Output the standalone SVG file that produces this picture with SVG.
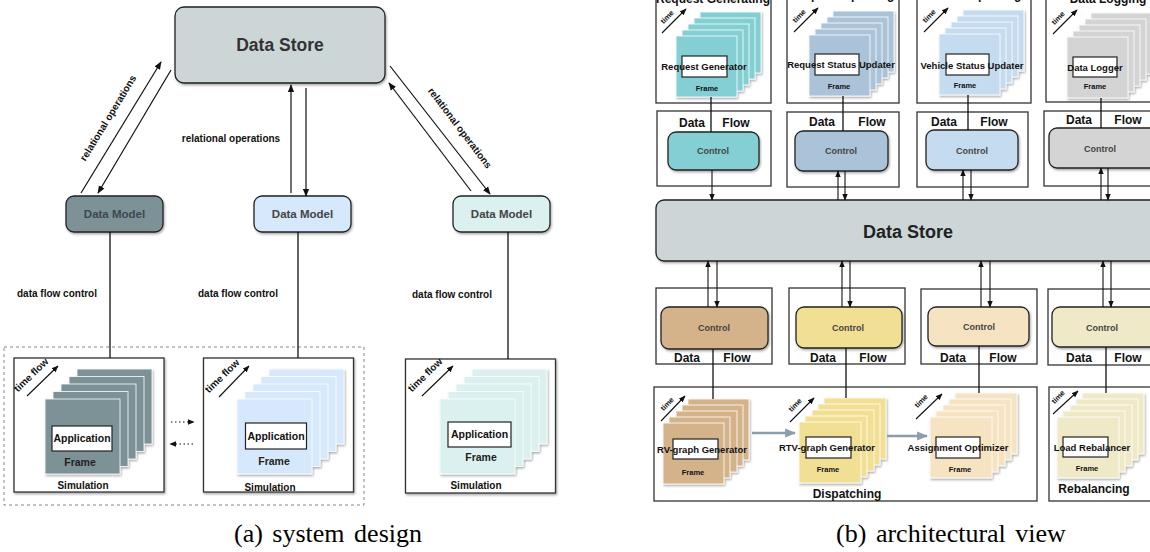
<svg xmlns="http://www.w3.org/2000/svg" width="1150" height="552" viewBox="0 0 1150 552">
<defs>
<style>
text{font-family:"Liberation Sans",Arial,sans-serif;font-weight:bold;fill:#111;text-anchor:middle}
.cap{font-family:"Liberation Serif","Times New Roman",serif;font-weight:normal;font-size:26px;fill:#000;word-spacing:3px}
.box{fill:#fff;stroke:#333;stroke-width:1.3}
.rnd{stroke:#222;stroke-width:1.3}
.lbl{fill:#fff;stroke:#222;stroke-width:1.2}
.fr{stroke:#fff;stroke-width:0.8}
.ln{fill:none;stroke:#111;stroke-width:1.3}
.ar{fill:none;stroke:#111;stroke-width:1.2;marker-end:url(#ah)}
.ars{fill:none;stroke:#111;stroke-width:1.1;marker-end:url(#ahs)}
.dot{fill:none;stroke:#111;stroke-width:1.2;stroke-dasharray:1.5 2.5;marker-end:url(#ahs)}
.gar{fill:none;stroke:#8c9dac;stroke-width:2.5;marker-end:url(#ahg)}
.ctl{font-size:9px;fill:#444}
.df{font-size:12px}
.sm{font-size:10px}
.t9{font-size:9.5px}
.fm{font-size:7.5px}
.tm{font-size:7.5px}
</style>
<marker id="ah" viewBox="0 0 10 10" refX="9" refY="5" markerWidth="8" markerHeight="8" markerUnits="userSpaceOnUse" orient="auto"><path d="M0,1 L10,5 L0,9 z" fill="#111"/></marker>
<marker id="ahs" viewBox="0 0 10 10" refX="9" refY="5" markerWidth="7" markerHeight="7" markerUnits="userSpaceOnUse" orient="auto"><path d="M0,1 L10,5 L0,9 z" fill="#111"/></marker>
<marker id="ahg" viewBox="0 0 10 10" refX="9" refY="5" markerWidth="11" markerHeight="11" markerUnits="userSpaceOnUse" orient="auto"><path d="M0,1 L10,5 L0,9 z" fill="#8c9dac"/></marker>
<filter id="sh" x="-10%" y="-10%" width="130%" height="130%"><feDropShadow dx="1" dy="1.5" stdDeviation="1" flood-color="#000" flood-opacity="0.35"/></filter>
</defs>

<!-- ============ (a) system design ============ -->
<g id="a-datastore">
<rect x="175" y="7" width="210" height="76" rx="9" fill="#ccd6d7" class="rnd" filter="url(#sh)"/>
<text x="280" y="45" dy="0.35em" style="font-size:17.5px;fill:#333">Data Store</text>
</g>
<g id="a-datamodel-1">
<rect x="66" y="196" width="97" height="36" rx="8" fill="#7b9297" class="rnd" filter="url(#sh)"/>
<text x="114.5" y="214" dy="0.35em" style="font-size:11.5px;fill:#3c494c">Data Model</text>
</g>
<g id="a-datamodel-2">
<rect x="254" y="196" width="97" height="36" rx="8" fill="#d5e8fc" class="rnd" filter="url(#sh)"/>
<text x="302.5" y="214" dy="0.35em" style="font-size:11.5px;fill:#444">Data Model</text>
</g>
<g id="a-datamodel-3">
<rect x="453" y="196" width="97" height="36" rx="8" fill="#dbf1f0" class="rnd" filter="url(#sh)"/>
<text x="501.5" y="214" dy="0.35em" style="font-size:11.5px;fill:#444">Data Model</text>
</g>

<g id="a-group">
<rect x="4" y="347" width="360" height="158" fill="none" stroke="#888" stroke-width="1" stroke-dasharray="3 3"/>
</g>

<g id="a-sim-1">
<rect x="14" y="358" width="150" height="134" class="box" filter="url(#sh)"/>
<g fill="#7b9297" class="fr" filter="url(#sh)">
<rect x="77" y="369" width="75" height="75"/><rect x="69" y="376.5" width="75" height="75"/><rect x="61" y="384" width="75" height="75"/><rect x="53" y="391.5" width="75" height="75"/><rect x="45" y="399" width="75" height="75"/>
</g>
<rect x="52" y="426" width="60" height="25" class="lbl"/>
<text x="82" y="438.5" dy="0.35em" style="font-size:10.5px">Application</text>
<text x="80" y="462" dy="0.35em" style="font-size:10.5px;fill:#222">Frame</text>
<text x="83" y="485" dy="0.35em" class="sm">Simulation</text>
<line x1="27" y1="396" x2="58" y2="366" class="ars"/>
<text x="0" y="0" class="sm" transform="translate(31,375) rotate(-44)" dy="0.35em">time flow</text>
</g>

<g id="a-sim-2">
<rect x="203.5" y="358" width="150" height="134" class="box" filter="url(#sh)"/>
<g fill="#d5e8fc" class="fr" filter="url(#sh)">
<rect x="269" y="369" width="75" height="75"/><rect x="261" y="376.5" width="75" height="75"/><rect x="253" y="384" width="75" height="75"/><rect x="245" y="391.5" width="75" height="75"/><rect x="237" y="399" width="75" height="75"/>
</g>
<rect x="245.5" y="423" width="61" height="26" class="lbl"/>
<text x="276" y="436" dy="0.35em" style="font-size:10.5px">Application</text>
<text x="274" y="461" dy="0.35em" style="font-size:10.5px;fill:#222">Frame</text>
<text x="270" y="487" dy="0.35em" class="sm">Simulation</text>
<line x1="219" y1="397" x2="249" y2="366" class="ars"/>
<text x="0" y="0" class="sm" transform="translate(222,376) rotate(-44)" dy="0.35em">time flow</text>
</g>

<g id="a-sim-3">
<rect x="405.5" y="359" width="150" height="134" class="box" filter="url(#sh)"/>
<g fill="#dbf1f0" class="fr" filter="url(#sh)">
<rect x="472" y="369" width="75" height="75"/><rect x="464" y="376.5" width="75" height="75"/><rect x="456" y="384" width="75" height="75"/><rect x="448" y="391.5" width="75" height="75"/><rect x="440" y="399" width="75" height="75"/>
</g>
<rect x="448" y="422" width="63" height="25" class="lbl"/>
<text x="479.5" y="434" dy="0.35em" style="font-size:10.5px">Application</text>
<text x="481" y="457" dy="0.35em" style="font-size:10.5px;fill:#222">Frame</text>
<text x="476" y="485" dy="0.35em" class="sm">Simulation</text>
<line x1="422" y1="396" x2="453" y2="366" class="ars"/>
<text x="0" y="0" class="sm" transform="translate(425,375) rotate(-44)" dy="0.35em">time flow</text>
</g>

<g id="a-connectors">
<line x1="81" y1="193" x2="161" y2="62" class="ar"/>
<line x1="171" y1="70" x2="98" y2="193" class="ar"/>
<line x1="291" y1="193" x2="291" y2="85" class="ar"/>
<line x1="306" y1="88" x2="306" y2="196" class="ar"/>
<line x1="471" y1="191" x2="389" y2="83" class="ar"/>
<line x1="390" y1="66" x2="490" y2="194" class="ar"/>
<line x1="110" y1="232" x2="110" y2="358" class="ln"/>
<line x1="298" y1="232" x2="298" y2="358" class="ln"/>
<line x1="508" y1="232" x2="508" y2="359" class="ln"/>
<line x1="171" y1="422" x2="194" y2="422" class="dot"/>
<line x1="193" y1="444" x2="170" y2="444" class="dot"/>
</g>
<g id="a-labels">
<text x="0" y="0" class="sm" transform="translate(108,118) rotate(-58.6)" dy="0.35em">relational operations</text>
<text x="231" y="138" dy="0.35em" class="sm">relational operations</text>
<text x="0" y="0" class="sm" transform="translate(460,128) rotate(52.8)" dy="0.35em">relational operations</text>
<text x="57" y="293" dy="0.35em" class="sm">data flow control</text>
<text x="238" y="293" dy="0.35em" class="sm">data flow control</text>
<text x="452" y="294" dy="0.35em" class="sm">data flow control</text>
</g>
<text x="328" y="542" class="cap">(a) system design</text>

<!-- ============ (b) architectural view ============ -->
<g id="b-req-gen">
<rect x="656" y="-10" width="115" height="113" class="box"/>
<text x="713" y="3" style="font-size:12px">Request Generating</text>
<g fill="#84cfd4" class="fr" filter="url(#sh)">
<rect x="700" y="12" width="61" height="61"/><rect x="694" y="18" width="61" height="61"/><rect x="688" y="24" width="61" height="61"/><rect x="682" y="30" width="61" height="61"/><rect x="676" y="36" width="61" height="61"/>
</g>
<rect x="682" y="56" width="45" height="21" class="lbl"/>
<text x="704" y="67" dy="0.35em" class="t9">Request Generator</text>
<text x="707" y="88" dy="0.35em" class="fm">Frame</text>
<line x1="662" y1="33" x2="686" y2="9" class="ars"/>
<text x="0" y="0" class="tm" transform="translate(667,17) rotate(-45)" dy="0.35em">time</text>
</g>
<g id="b-req-upd">
<rect x="787" y="-10" width="112" height="113" class="box"/>
<text x="843" y="-1" style="font-size:12px">Request Updating</text>
<g fill="#abc3d8" class="fr" filter="url(#sh)">
<rect x="833" y="11" width="61" height="61"/><rect x="827" y="17" width="61" height="61"/><rect x="821" y="23" width="61" height="61"/><rect x="815" y="29" width="61" height="61"/><rect x="809" y="35" width="61" height="61"/>
</g>
<rect x="815" y="54" width="44" height="21" class="lbl"/>
<text x="841" y="65" dy="0.35em" class="t9">Request Status Updater</text>
<text x="839" y="86" dy="0.35em" class="fm">Frame</text>
<line x1="794" y1="32" x2="818" y2="8" class="ars"/>
<text x="0" y="0" class="tm" transform="translate(799,16) rotate(-45)" dy="0.35em">time</text>
</g>
<g id="b-veh-upd">
<rect x="917" y="-10" width="114" height="113" class="box"/>
<text x="973" y="-1" style="font-size:12px">Vehicle Updating</text>
<g fill="#c5dcf0" class="fr" filter="url(#sh)">
<rect x="963" y="10" width="61" height="61"/><rect x="957" y="16" width="61" height="61"/><rect x="951" y="22" width="61" height="61"/><rect x="945" y="28" width="61" height="61"/><rect x="939" y="34" width="61" height="61"/>
</g>
<rect x="946" y="54" width="43" height="21" class="lbl"/>
<text x="972" y="66" dy="0.35em" class="t9">Vehicle Status Updater</text>
<text x="965" y="85" dy="0.35em" class="fm">Frame</text>
<line x1="924" y1="32" x2="948" y2="8" class="ars"/>
<text x="0" y="0" class="tm" transform="translate(929,16) rotate(-45)" dy="0.35em">time</text>
</g>
<g id="b-data-log">
<rect x="1046" y="-10" width="115" height="112" class="box"/>
<text x="1108" y="3" style="font-size:12px">Data Logging</text>
<g fill="#d4d4d4" class="fr" filter="url(#sh)">
<rect x="1091" y="13" width="61" height="61"/><rect x="1085" y="19" width="61" height="61"/><rect x="1079" y="25" width="61" height="61"/><rect x="1073" y="31" width="61" height="61"/><rect x="1067" y="37" width="61" height="61"/>
</g>
<rect x="1073" y="57" width="44" height="20" class="lbl"/>
<text x="1095" y="68" dy="0.35em" class="t9">Data Logger</text>
<text x="1095" y="86" dy="0.35em" class="fm">Frame</text>
<line x1="1053" y1="34" x2="1077" y2="10" class="ars"/>
<text x="0" y="0" class="tm" transform="translate(1058,18) rotate(-45)" dy="0.35em">time</text>
</g>

<g id="b-ctl-a">
<rect x="657" y="111" width="114" height="75" class="box"/>
<text x="692" y="123" dy="0.35em" class="df">Data</text>
<text x="736" y="123" dy="0.35em" class="df">Flow</text>
<rect x="668" y="132" width="91" height="38" rx="8" fill="#84cfd4" class="rnd" filter="url(#sh)"/>
<text x="713" y="151" dy="0.35em" class="ctl">Control</text>
</g>
<g id="b-ctl-b">
<rect x="787" y="112" width="112" height="75" class="box"/>
<text x="822" y="122" dy="0.35em" class="df">Data</text>
<text x="872" y="122" dy="0.35em" class="df">Flow</text>
<rect x="795" y="131" width="93" height="40" rx="8" fill="#abc3d8" class="rnd" filter="url(#sh)"/>
<text x="841" y="151" dy="0.35em" class="ctl">Control</text>
</g>
<g id="b-ctl-c">
<rect x="917" y="112" width="111" height="75" class="box"/>
<text x="944" y="122" dy="0.35em" class="df">Data</text>
<text x="994" y="122" dy="0.35em" class="df">Flow</text>
<rect x="926" y="130" width="92" height="40" rx="8" fill="#c5dcf0" class="rnd" filter="url(#sh)"/>
<text x="972" y="151" dy="0.35em" class="ctl">Control</text>
</g>
<g id="b-ctl-d">
<rect x="1044" y="111" width="116" height="75" class="box"/>
<text x="1079" y="120" dy="0.35em" class="df">Data</text>
<text x="1128" y="120" dy="0.35em" class="df">Flow</text>
<rect x="1049" y="128" width="110" height="40" rx="8" fill="#d4d4d4" class="rnd" filter="url(#sh)"/>
<text x="1100" y="149" dy="0.35em" class="ctl">Control</text>
</g>

<g id="b-datastore">
<rect x="656" y="200" width="510" height="61" rx="8" fill="#ccd6d7" class="rnd" filter="url(#sh)"/>
<text x="908" y="232" dy="0.35em" style="font-size:18px;fill:#222">Data Store</text>
</g>

<g id="b-ctl-e">
<rect x="656" y="288" width="116" height="76" class="box"/>
<rect x="661" y="307" width="107" height="42" rx="8" fill="#d5b38a" class="rnd" filter="url(#sh)"/>
<text x="714" y="328" dy="0.35em" class="ctl">Control</text>
<text x="687" y="358" dy="0.35em" class="df">Data</text>
<text x="737" y="358" dy="0.35em" class="df">Flow</text>
</g>
<g id="b-ctl-f">
<rect x="789" y="288" width="116" height="76" class="box"/>
<rect x="796" y="307" width="106" height="41" rx="8" fill="#f1df94" class="rnd" filter="url(#sh)"/>
<text x="848" y="328" dy="0.35em" class="ctl">Control</text>
<text x="823" y="358" dy="0.35em" class="df">Data</text>
<text x="873" y="358" dy="0.35em" class="df">Flow</text>
</g>
<g id="b-ctl-g">
<rect x="921" y="289" width="116" height="75" class="box"/>
<rect x="928" y="307" width="101" height="39" rx="8" fill="#f6e3c1" class="rnd" filter="url(#sh)"/>
<text x="979" y="327" dy="0.35em" class="ctl">Control</text>
<text x="953" y="358" dy="0.35em" class="df">Data</text>
<text x="1003" y="358" dy="0.35em" class="df">Flow</text>
</g>
<g id="b-ctl-h">
<rect x="1048" y="289" width="116" height="76" class="box"/>
<rect x="1052" y="307" width="110" height="40" rx="8" fill="#efe9c8" class="rnd" filter="url(#sh)"/>
<text x="1102" y="328" dy="0.35em" class="ctl">Control</text>
<text x="1079" y="358" dy="0.35em" class="df">Data</text>
<text x="1128" y="358" dy="0.35em" class="df">Flow</text>
</g>

<g id="b-dispatching">
<rect x="654" y="387" width="383" height="114" class="box"/>
<text x="847" y="494" dy="0.35em" style="font-size:12px">Dispatching</text>
<g fill="#d5b38a" class="fr" filter="url(#sh)">
<rect x="688" y="399" width="61" height="61"/><rect x="682" y="405" width="61" height="61"/><rect x="676" y="411" width="61" height="61"/><rect x="669" y="417" width="61" height="61"/><rect x="663" y="423" width="61" height="61"/>
</g>
<rect x="673" y="439" width="45" height="20" class="lbl"/>
<text x="702" y="450" dy="0.35em" class="t9">RV-graph Generator</text>
<text x="693" y="472" dy="0.35em" class="fm">Frame</text>
<line x1="661" y1="421" x2="685" y2="396" class="ars"/>
<text x="0" y="0" class="tm" transform="translate(667,404) rotate(-45)" dy="0.35em">time</text>

<g fill="#f1df94" class="fr" filter="url(#sh)">
<rect x="824" y="398" width="62" height="61"/><rect x="818" y="404" width="62" height="61"/><rect x="812" y="410" width="62" height="61"/><rect x="805" y="416" width="62" height="61"/><rect x="799" y="422" width="62" height="61"/>
</g>
<rect x="806" y="437" width="45" height="21" class="lbl"/>
<text x="827" y="448" dy="0.35em" class="t9">RTV-graph Generator</text>
<text x="828" y="469" dy="0.35em" class="fm">Frame</text>
<line x1="790" y1="422" x2="814" y2="398" class="ars"/>
<text x="0" y="0" class="tm" transform="translate(795,405) rotate(-45)" dy="0.35em">time</text>

<g fill="#f6e3c1" class="fr" filter="url(#sh)">
<rect x="955" y="393" width="62" height="61"/><rect x="949" y="399" width="62" height="61"/><rect x="943" y="405" width="62" height="61"/><rect x="936" y="411" width="62" height="61"/><rect x="930" y="417" width="62" height="61"/>
</g>
<rect x="936" y="437" width="44" height="21" class="lbl"/>
<text x="958" y="448" dy="0.35em" class="t9">Assignment Optimizer</text>
<text x="960" y="469" dy="0.35em" class="fm">Frame</text>
<line x1="916" y1="419" x2="942" y2="394" class="ars"/>
<text x="0" y="0" class="tm" transform="translate(921,401) rotate(-45)" dy="0.35em">time</text>
</g>

<g id="b-rebalancing">
<rect x="1049" y="387" width="115" height="114" class="box"/>
<text x="1094" y="489" dy="0.35em" style="font-size:12px">Rebalancing</text>
<g fill="#efe9c8" class="fr" filter="url(#sh)">
<rect x="1082" y="393" width="62" height="61"/><rect x="1076" y="399" width="62" height="61"/><rect x="1070" y="405" width="62" height="61"/><rect x="1063" y="411" width="62" height="61"/><rect x="1057" y="417" width="62" height="61"/>
</g>
<rect x="1063" y="437" width="45" height="20" class="lbl"/>
<text x="1092" y="448" dy="0.35em" class="t9">Load Rebalancer</text>
<text x="1087" y="468" dy="0.35em" class="fm">Frame</text>
<line x1="1053" y1="414" x2="1078" y2="391" class="ars"/>
<text x="0" y="0" class="tm" transform="translate(1058,397) rotate(-45)" dy="0.35em">time</text>
</g>

<g id="b-connectors">
<line x1="711" y1="97" x2="711" y2="132" class="ln"/>
<line x1="843" y1="96" x2="843" y2="131" class="ln"/>
<line x1="968" y1="95" x2="968" y2="130" class="ln"/>
<line x1="1101" y1="98" x2="1101" y2="128" class="ln"/>
<line x1="712" y1="170" x2="712" y2="200" class="ars"/>
<line x1="838" y1="200" x2="838" y2="171" class="ars"/>
<line x1="845" y1="171" x2="845" y2="200" class="ars"/>
<line x1="963" y1="200" x2="963" y2="170" class="ars"/>
<line x1="971" y1="170" x2="971" y2="200" class="ars"/>
<line x1="1101" y1="200" x2="1101" y2="168" class="ars"/>
<line x1="1108" y1="168" x2="1108" y2="200" class="ars"/>
<line x1="708" y1="307" x2="708" y2="261" class="ars"/>
<line x1="717" y1="261" x2="717" y2="307" class="ars"/>
<line x1="842" y1="307" x2="842" y2="261" class="ars"/>
<line x1="850" y1="261" x2="850" y2="307" class="ars"/>
<line x1="981" y1="307" x2="981" y2="261" class="ars"/>
<line x1="990" y1="261" x2="990" y2="307" class="ars"/>
<line x1="1103" y1="307" x2="1103" y2="261" class="ars"/>
<line x1="1111" y1="261" x2="1111" y2="307" class="ars"/>
<line x1="713" y1="349" x2="713" y2="399" class="ln"/>
<line x1="846" y1="348" x2="846" y2="398" class="ln"/>
<line x1="979" y1="346" x2="979" y2="393" class="ln"/>
<line x1="1106" y1="347" x2="1106" y2="393" class="ln"/>
<line x1="752" y1="433" x2="795" y2="433" class="gar"/>
<line x1="887" y1="436" x2="927" y2="436" class="gar"/>
</g>
<text x="951" y="542" class="cap">(b) architectural view</text>
</svg>
